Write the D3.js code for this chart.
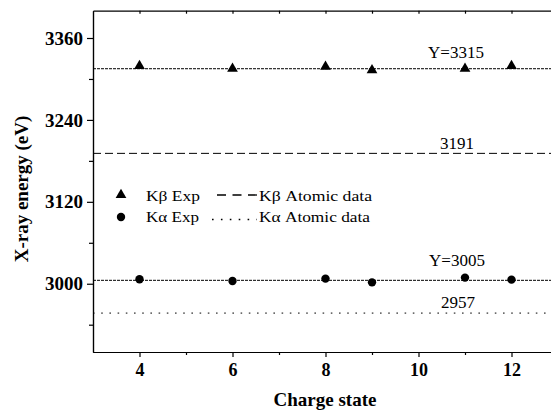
<!DOCTYPE html>
<meta charset="utf-8">
<style>
html, body { margin: 0; padding: 0; background: #fff; }
svg text { font-family: "Liberation Serif", "Times New Roman", Times, serif !important; fill: #000; }
.axis path, .axis line { stroke: #000; stroke-width: 1.2px; }
.axis text { font-weight: bold; font-size: 18px; }
.yaxis text { font-size: 19px; }
</style>
<body>
<script src="https://cdn.jsdelivr.net/npm/d3@7"></script>
<script>

// charge states measured
var chargeStates = [4, 6, 8, 9, 11, 12];
// K-beta and K-alpha experimental energies (eV)
var kbExp = [3319, 3315, 3318, 3313, 3315, 3319];
var kaExp = [3006.5, 3004, 3007.5, 3002, 3009, 3006];
// fitted means and atomic data
var kbFit = 3315, kaFit = 3005;
var kbAtomic = 3191, kaAtomic = 2957;

var yMajor = [3000, 3120, 3240, 3360];
var yMinor = [2940, 3060, 3180, 3300];
var xMajor = [4, 6, 8, 10, 12];
var xMinor = [5, 7, 9, 11];

var width = 551, height = 412;

var svg = d3.select("body").append("svg")
    .attr("width", width)
    .attr("height", height)
    .style("display", "block");

var x = d3.scaleLinear().domain([3, 13]).range([93, 558]);
var y = d3.scaleLinear().domain([2900, 3400]).range([352, 10.7]);

// horizontal reference lines
function hline(v, dash) {
  svg.append("line")
      .attr("x1", x(3)).attr("x2", x(13))
      .attr("y1", y(v)).attr("y2", y(v))
      .attr("stroke", "#000")
      .attr("stroke-width", 1)
      .attr("stroke-dasharray", dash);
}
hline(kbFit, "3,1");
hline(kaFit, "3,1");
hline(kbAtomic, "8,4");
hline(kaAtomic, "1.6,6.6");

// annotations
function note(v, txt, cx, dy) {
  svg.append("text")
      .attr("x", cx).attr("y", y(v) + dy)
      .attr("text-anchor", "middle")
      .style("font-size", "17px")
      .text(txt);
}
note(kbFit, "Y=" + kbFit, 456, -10.5);
note(kaFit, "Y=" + kaFit, 457, -14.5);
note(kbAtomic, kbAtomic, 457, -4.5);
note(kaAtomic, kaAtomic, 458, -5);

// axes
svg.append("g").attr("class", "axis yaxis")
    .attr("transform", "translate(" + x(3) + ",0)")
    .call(d3.axisLeft(y).tickValues(yMajor).tickSize(6).tickSizeOuter(0).tickPadding(4).tickFormat(d3.format("d")));
svg.append("g").attr("class", "axis")
    .attr("transform", "translate(" + x(3) + ",0)")
    .call(d3.axisLeft(y).tickValues(yMinor).tickSize(4).tickSizeOuter(0).tickFormat(""));
svg.append("g").attr("class", "axis")
    .attr("transform", "translate(0," + y(2900) + ")")
    .call(d3.axisBottom(x).tickValues(xMajor).tickSize(5).tickSizeOuter(0).tickPadding(6));
svg.append("g").attr("class", "axis")
    .attr("transform", "translate(0," + y(2900) + ")")
    .call(d3.axisBottom(x).tickValues(xMinor).tickSize(3).tickSizeOuter(0).tickFormat(""));
svg.append("g").attr("class", "axis")
    .attr("transform", "translate(0," + y(3400) + ")")
    .call(d3.axisTop(x).tickValues(xMajor.concat(xMinor)).tickSize(-3).tickSizeOuter(0).tickFormat(""));

// axis titles
svg.append("text")
    .attr("x", 325).attr("y", 406)
    .attr("text-anchor", "middle")
    .style("font-size", "19px").style("font-weight", "bold")
    .text("Charge state");
svg.append("text")
    .attr("transform", "translate(28,189) rotate(-90)")
    .attr("text-anchor", "middle")
    .style("font-size", "19px").style("font-weight", "bold")
    .text("X-ray energy (eV)");

// data points
var tri = d3.symbol().type(d3.symbolTriangle).size(50);
svg.selectAll(".kb").data(chargeStates).enter().append("path")
    .attr("class", "kb")
    .attr("d", tri)
    .attr("transform", function(d, i) { return "translate(" + x(d) + "," + y(kbExp[i]) + ")"; })
    .attr("fill", "#000");

svg.selectAll(".ka").data(chargeStates).enter().append("circle")
    .attr("class", "ka")
    .attr("cx", function(d) { return x(d); })
    .attr("cy", function(d, i) { return y(kaExp[i]); })
    .attr("r", 4.2)
    .attr("fill", "#000");

// legend
var lg = svg.append("g");
lg.append("path").attr("d", tri).attr("transform", "translate(121,195)").attr("fill", "#000");
lg.append("circle").attr("cx", 121).attr("cy", 217).attr("r", 4.2).attr("fill", "#000");
lg.append("line").attr("x1", 217).attr("x2", 257).attr("y1", 195).attr("y2", 195)
    .attr("stroke", "#000").attr("stroke-width", 1.3).attr("stroke-dasharray", "9,6.5");
lg.append("line").attr("x1", 212).attr("x2", 257).attr("y1", 219.5).attr("y2", 219.5)
    .attr("stroke", "#000").attr("stroke-width", 1.3).attr("stroke-dasharray", "1.6,7.3");

var legendText = [
  {t: "K\u03b2 Exp", x: 146, y: 200.5, w: 54},
  {t: "K\u03b1 Exp", x: 146, y: 221.5, w: 53},
  {t: "K\u03b2 Atomic data", x: 259, y: 200.5, w: 113},
  {t: "K\u03b1 Atomic data", x: 259, y: 221.5, w: 111}
];
lg.selectAll("text").data(legendText).enter().append("text")
    .attr("x", function(d) { return d.x; })
    .attr("y", function(d) { return d.y; })
    .attr("textLength", function(d) { return d.w; })
    .attr("lengthAdjust", "spacingAndGlyphs")
    .style("font-size", "14px")
    .text(function(d) { return d.t; });

</script>
